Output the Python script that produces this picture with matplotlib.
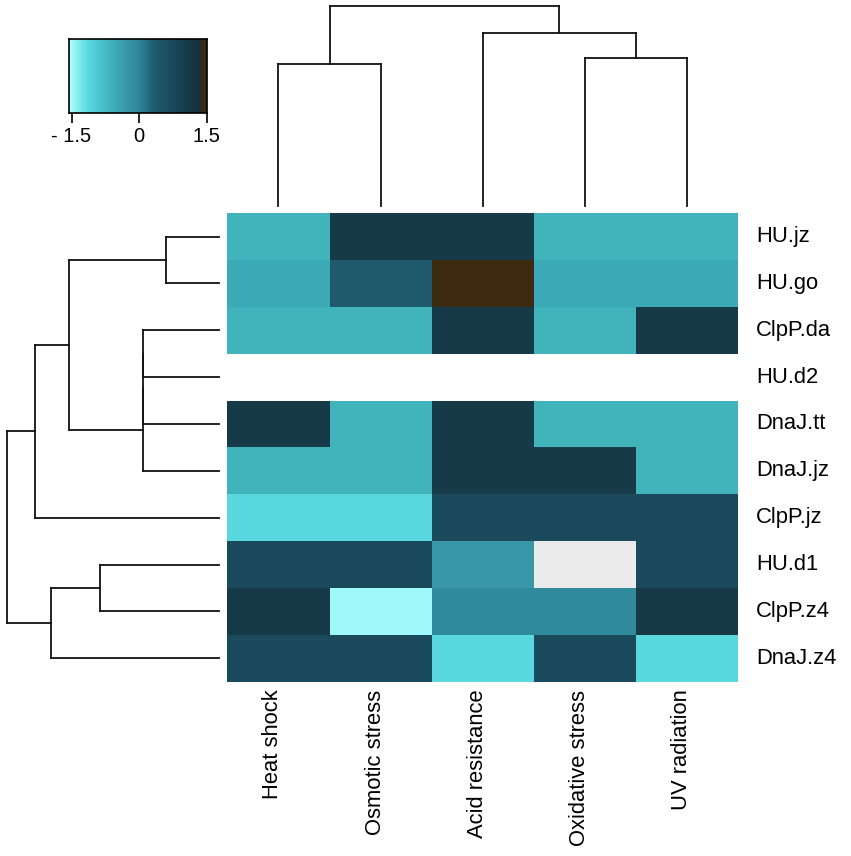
import numpy as np
import matplotlib
matplotlib.use('Agg')
from matplotlib import pyplot as plt
from matplotlib.colors import LinearSegmentedColormap

# > data (rows / columns in displayed order)
row_names = ['HU.jz', 'HU.go', 'ClpP.da', 'HU.d2', 'DnaJ.tt',
             'DnaJ.jz', 'ClpP.jz', 'HU.d1', 'ClpP.z4', 'DnaJ.z4']
col_names = ['Heat shock', 'Osmotic stress', 'Acid resistance',
             'Oxidative stress', 'UV radiation']

hu_jz = [-0.64, 1.10, 1.10, -0.64, -0.64]
hu_go = [-0.51, 0.34, 1.50, -0.51, -0.51]
clpp_da = [-0.64, -0.64, 1.10, -0.64, 1.10]
hu_d2 = [np.nan, np.nan, np.nan, np.nan, np.nan]
dnaj_tt = [1.10, -0.64, 1.10, -0.64, -0.64]
dnaj_jz = [-0.64, -0.64, 1.10, 1.10, -0.64]
clpp_jz = [-1.12, -1.12, 0.74, 0.74, 0.74]
hu_d1 = [0.74, 0.74, -0.30, np.nan, 0.74]
clpp_z4 = [1.10, -1.47, -0.03, -0.03, 1.10]
dnaj_z4 = [0.74, 0.74, -1.12, 0.74, -1.12]

# cells shown in light grey instead of blank
grey_cells = [('HU.d1', 'Oxidative stress')]

# dendrograms: (left, right, height); ids >= n_leaves are earlier merges
row_merges = [
    (0, 1, 2.50),
    (2, 3, 3.58),
    (11, 4, 3.58),
    (12, 5, 3.58),
    (10, 13, 7.08),
    (14, 6, 8.68),
    (7, 8, 5.61),
    (16, 9, 7.92),
    (15, 17, 10.0),
]
col_merges = [
    (3, 4, 7.41),
    (0, 1, 7.08),
    (2, 5, 8.66),
    (6, 7, 10.0),
]

key_min, key_max = -1.55, 1.5
key_ticks = [-1.5, 0, 1.5]
key_tick_labels = ['- 1.5', '0', '1.5']

W, H = 851, 856


def px_axes(fig, left, top, width, height):
    return fig.add_axes([left / W, (H - top - height) / H, width / W, height / H])


def make_cmap():
    anchors = [
        (0.00, '#c4ffff'),
        (0.025, '#a0f8f8'),
        (0.14, '#5ad8e0'),
        (0.30, '#40b2ba'),
        (0.34, '#3caab6'),
        (0.41, '#3898a8'),
        (0.50, '#2f8a9c'),
        (0.62, '#1f5a6c'),
        (0.75, '#1a4a5c'),
        (0.87, '#163a48'),
        (0.955, '#1a3038'),
        (0.965, '#3d2a10'),
        (1.00, '#3d2a10'),
    ]
    cmap = LinearSegmentedColormap.from_list('key', anchors, N=512)
    cmap.set_bad('white')
    return cmap


def draw_dendrogram(ax, merges, n_leaves, orientation):
    pos = {i: i + 0.5 for i in range(n_leaves)}
    hgt = {i: 0.0 for i in range(n_leaves)}
    for k, (a, b, h) in enumerate(merges):
        segs = [
            ((pos[a], pos[a]), (hgt[a], h)),
            ((pos[b], pos[b]), (hgt[b], h)),
            ((pos[a], pos[b]), (h, h)),
        ]
        for p, q in segs:
            if orientation == 'left':
                ax.plot(q, p, color='#111111', lw=1.3, solid_capstyle='projecting', clip_on=False)
            else:
                ax.plot(p, q, color='#111111', lw=1.3, solid_capstyle='projecting', clip_on=False)
        pos[n_leaves + k] = (pos[a] + pos[b]) / 2
        hgt[n_leaves + k] = h
    ax.axis('off')


def main():
    plt.rcParams['font.family'] = ['Liberation Sans', 'DejaVu Sans']
    data = np.array([hu_jz, hu_go, clpp_da, hu_d2, dnaj_tt,
                     dnaj_jz, clpp_jz, hu_d1, clpp_z4, dnaj_z4])
    cmap = make_cmap()
    n_rows, n_cols = data.shape

    fig = plt.figure(figsize=(W / 100, H / 100), dpi=100)

    # > heatmap
    hm_left, hm_top, hm_w, hm_h = 227.4, 213.1, 510.9, 468.6
    ax = px_axes(fig, hm_left, hm_top, hm_w, hm_h)
    ax.pcolormesh(np.arange(n_cols + 1), np.arange(n_rows + 1),
                  np.ma.masked_invalid(data), cmap=cmap, vmin=key_min, vmax=key_max)
    for r_name, c_name in grey_cells:
        r, c = row_names.index(r_name), col_names.index(c_name)
        ax.fill_between([c, c + 1], r, r + 1, color='#ebebeb', lw=0)
    ax.set_xlim(0, n_cols)
    ax.set_ylim(n_rows, 0)
    ax.axis('off')

    # labels
    for i, name in enumerate(row_names):
        ax.annotate(name, xy=(n_cols, i + 0.5), xytext=(18, 0), textcoords='offset pixels',
                    ha='left', va='center', fontsize=15.8, annotation_clip=False)
    for j, name in enumerate(col_names):
        ax.annotate(name, xy=(j + 0.5, n_rows), xytext=(0, -8), textcoords='offset pixels',
                    ha='right', va='baseline', rotation=90, rotation_mode='anchor',
                    fontsize=15.8, annotation_clip=False)

    # > row dendrogram
    ax_r = px_axes(fig, 6.7, hm_top, 219.3 - 6.7, hm_h)
    ax_r.set_xlim(row_merges[-1][2], 0)
    ax_r.set_ylim(n_rows, 0)
    draw_dendrogram(ax_r, row_merges, n_rows, 'left')

    # > column dendrogram
    ax_c = px_axes(fig, hm_left, 6.0, hm_w, 205.7 - 6.0)
    ax_c.set_xlim(0, n_cols)
    ax_c.set_ylim(0, col_merges[-1][2])
    draw_dendrogram(ax_c, col_merges, n_cols, 'top')

    # > colour key
    ax_k = px_axes(fig, 69.3, 39.3, 137.4, 73.4)
    grad = np.linspace(key_min, key_max, 400).reshape(1, -1)
    ax_k.imshow(grad, cmap=cmap, vmin=key_min, vmax=key_max, aspect='auto',
                extent=[key_min, key_max, 0, 1], interpolation='nearest')
    ax_k.set_xlim(key_min, key_max)
    ax_k.set_ylim(0, 1)
    ax_k.set_yticks([])
    ax_k.set_xticks(key_ticks)
    ax_k.set_xticklabels(key_tick_labels, fontsize=14.5)
    ax_k.tick_params(axis='x', length=7.5, width=1.2, pad=3)
    for sp in ax_k.spines.values():
        sp.set_linewidth(1.2)

    fig.savefig('out.png', dpi=100)


if __name__ == '__main__':
    main()
